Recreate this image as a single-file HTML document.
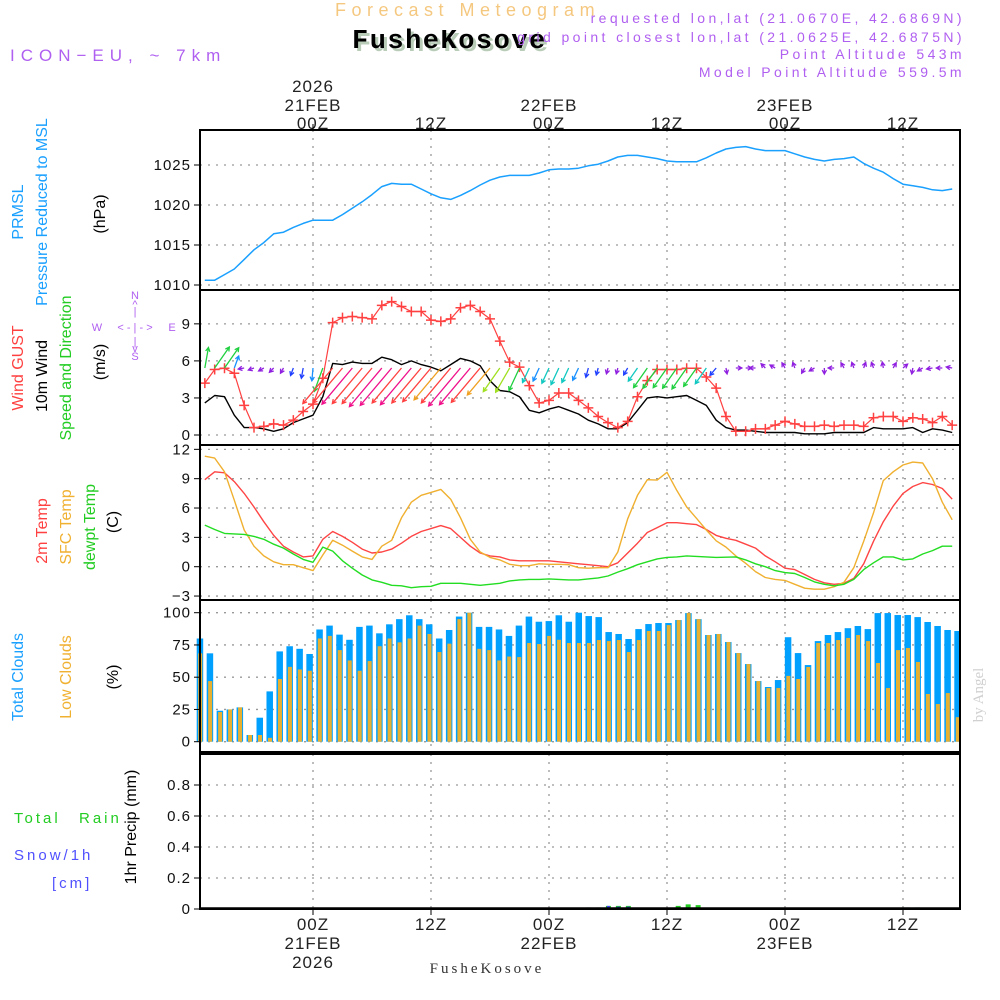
<!DOCTYPE html>
<html><head><meta charset="utf-8"><style>
body{margin:0;background:#fff;}
svg{display:block;font-family:"Liberation Sans",sans-serif;}
.tk{font-size:15px;fill:#111;text-anchor:end;letter-spacing:1px}
.tl{font-size:17px;fill:#222;text-anchor:middle;letter-spacing:1px}
.lt{font-size:16px;text-anchor:middle}
</style></head><body>
<svg id="chart" width="1000" height="1000" viewBox="0 0 1000 1000" xmlns="http://www.w3.org/2000/svg">
<rect width="1000" height="1000" fill="#fff"/>
<text x="335" y="16" font-size="18" fill="#f5c880" letter-spacing="5.5">Forecast Meteogram</text>
<text x="355" y="51" font-size="27" font-weight="bold" fill="#b8ccb8" font-family="Liberation Mono,monospace" letter-spacing="1.5">FusheKosove</text>
<text x="352" y="48" font-size="27" font-weight="bold" fill="#000" font-family="Liberation Mono,monospace" letter-spacing="1.5">FusheKosove</text>
<text x="10" y="61" font-size="17" fill="#b060f0" letter-spacing="6">ICON−EU, ~ 7km</text>
<g font-size="14" fill="#b060f0" text-anchor="end" letter-spacing="3.4">
<text x="965" y="23">requested lon,lat (21.0670E, 42.6869N)</text>
<text x="965" y="42">grid point closest lon,lat (21.0625E, 42.6875N)</text>
<text x="965" y="59">Point Altitude 543m</text>
<text x="965" y="77">Model Point Altitude 559.5m</text>
</g>
<g class="lt">
<text transform="translate(23,212) rotate(-90)" fill="#1aa0ff">PRMSL</text>
<text transform="translate(47,212) rotate(-90)" fill="#1aa0ff">Pressure Reduced to MSL</text>
<text transform="translate(105,214) rotate(-90)" fill="#000">(hPa)</text>
<text transform="translate(23,368) rotate(-90)" fill="#ff4040">Wind GUST</text>
<text transform="translate(47,376) rotate(-90)" fill="#000">10m Wind</text>
<text transform="translate(71,368) rotate(-90)" fill="#22cc22">Speed and Direction</text>
<text transform="translate(105,362) rotate(-90)" fill="#000">(m/s)</text>
<text transform="translate(47,531) rotate(-90)" fill="#ff4040">2m Temp</text>
<text transform="translate(71,527) rotate(-90)" fill="#f0b030">SFC Temp</text>
<text transform="translate(95,527) rotate(-90)" fill="#22cc22">dewpt Temp</text>
<text transform="translate(118,522) rotate(-90)" fill="#000">(C)</text>
<text transform="translate(23,677) rotate(-90)" fill="#1aa0ff">Total Clouds</text>
<text transform="translate(71,677) rotate(-90)" fill="#f0b030">Low Clouds</text>
<text transform="translate(118,677) rotate(-90)" fill="#000">(%)</text>
<text transform="translate(136,827) rotate(-90)" fill="#000">1hr Precip (mm)</text>
</g>
<g font-size="15" letter-spacing="3">
<text x="14" y="823" fill="#22cc22">Total</text>
<text x="79" y="823" fill="#22cc22">Rain</text>
<text x="14" y="860" fill="#5050ff">Snow/1h</text>
<text x="52" y="888" fill="#5050ff">[cm]</text>
</g>
<g font-size="11" fill="#b060f0" text-anchor="middle">
<text x="135" y="299">N</text><text x="135" y="308">^</text><text x="135" y="315">|</text>
<text x="97" y="331">W</text><text x="135" y="331">&lt; - | - &gt;</text><text x="172" y="331">E</text>
<text x="135" y="345">|</text><text x="135" y="352">v</text><text x="135" y="360">S</text>
</g>
<text transform="translate(983,695) rotate(-90)" font-size="15" fill="#d0d0d0" text-anchor="middle" font-family="Liberation Serif,serif">by Angel</text>
<text x="487" y="973" font-size="15" fill="#333" text-anchor="middle" font-family="Liberation Serif,serif" letter-spacing="3">FusheKosove</text>
<g id="grid"></g>
<g id="marks"></g>
<g id="frames"></g>
</svg>
<script>
const pressure=[1010.6,1010.6,1011.3,1012.0,1013.2,1014.4,1015.3,1016.4,1016.6,1017.2,1017.7,1018.1,1018.1,1018.1,1018.8,1019.6,1020.4,1021.3,1022.3,1022.7,1022.6,1022.6,1022.0,1021.4,1020.9,1020.7,1021.2,1021.8,1022.5,1023.1,1023.5,1023.7,1023.7,1023.7,1024.0,1024.4,1024.5,1024.5,1024.6,1024.9,1025.1,1025.5,1026.0,1026.2,1026.2,1026.0,1025.8,1025.5,1025.4,1025.4,1025.4,1025.9,1026.5,1027.0,1027.2,1027.3,1027.0,1026.8,1026.8,1026.8,1026.4,1026.0,1025.7,1025.5,1025.7,1025.8,1026.0,1025.2,1024.6,1024.1,1023.3,1022.6,1022.4,1022.2,1021.9,1021.8,1022.0];
const gust=[4.2,5.3,5.4,5.0,2.4,0.6,0.7,0.9,0.8,1.2,1.9,2.5,4.6,9.1,9.5,9.6,9.5,9.4,10.5,10.8,10.4,10.0,10.0,9.3,9.2,9.4,10.3,10.5,10.0,9.4,7.6,5.9,5.5,4.0,2.6,2.8,3.4,3.4,2.8,2.2,1.5,1.0,0.6,1.1,3.1,4.4,5.3,5.3,5.3,5.4,5.4,4.7,3.8,1.5,0.3,0.3,0.5,0.5,0.8,1.1,0.9,0.7,0.7,0.8,0.7,0.8,0.8,0.7,1.4,1.5,1.5,1.1,1.4,1.3,1.0,1.5,0.8];
const wind=[2.6,3.2,3.1,1.6,0.6,0.6,0.5,0.3,0.5,1.0,1.3,1.6,3.1,5.8,5.7,5.9,5.8,5.8,6.3,6.1,5.7,6.0,5.7,5.5,5.2,5.7,6.2,6.0,5.6,4.4,3.6,3.5,3.1,2.0,1.8,2.1,2.3,2.0,1.7,1.2,0.9,0.5,0.5,1.0,2.0,3.0,3.1,3.0,3.1,3.2,2.8,2.4,1.2,0.6,0.4,0.4,0.3,0.2,0.2,0.2,0.2,0.1,0.1,0.1,0.2,0.2,0.2,0.2,0.6,0.5,0.5,0.5,0.6,0.2,0.5,0.4,0.2];
const windDir=[190,215,215,200,80,70,60,45,30,20,10,5,20,40,40,40,40,40,40,40,40,40,40,40,40,40,40,40,40,40,35,30,25,25,25,25,25,25,25,15,15,15,15,30,35,35,35,35,35,35,35,35,40,350,270,270,90,135,120,150,160,30,60,0,90,150,160,200,160,170,210,230,10,60,80,90,100];
const temp2m=[8.9,9.7,9.6,8.7,7.5,6.1,4.6,3.2,2.1,1.5,1.0,1.1,2.8,3.6,3.1,2.5,1.8,1.4,1.5,1.8,2.4,3.1,3.6,3.9,4.2,3.9,3.0,2.1,1.4,1.1,1.0,0.7,0.6,0.6,0.6,0.6,0.5,0.4,0.3,0.2,0.1,0.0,0.4,1.4,2.4,3.5,4.0,4.5,4.5,4.4,4.3,3.8,3.2,2.9,2.7,2.3,1.9,1.1,0.5,-0.15,-0.3,-0.8,-1.3,-1.65,-1.8,-1.7,-1.2,0.3,2.6,4.6,6.2,7.5,8.2,8.6,8.4,8.0,6.9];
const tempSfc=[11.3,11.1,9.7,6.8,3.75,2.1,1.1,0.5,0.2,0.2,-0.1,-0.4,1.2,2.7,2.2,1.6,1.0,0.75,2.1,2.7,5.0,6.6,7.3,7.6,7.9,6.9,5.0,2.8,1.5,0.95,0.7,0.25,0.1,0.1,0.3,0.25,0.25,0.2,-0.1,-0.15,-0.1,-0.1,1.5,4.9,7.3,8.9,8.85,9.65,7.8,6.1,4.95,3.75,2.65,2.0,1.1,0.35,-0.5,-1.1,-1.3,-1.4,-1.8,-2.2,-2.3,-2.3,-2.05,-1.6,-0.1,2.6,5.5,8.8,9.7,10.4,10.7,10.6,9.0,6.6,4.8];
const dewpt=[4.25,3.8,3.4,3.35,3.3,3.1,2.8,2.3,1.9,1.3,0.75,0.45,2.0,1.6,0.6,-0.15,-0.85,-1.35,-1.6,-1.9,-1.95,-2.15,-2.05,-2.0,-1.7,-1.7,-1.7,-1.8,-1.9,-1.8,-1.7,-1.45,-1.35,-1.3,-1.3,-1.25,-1.3,-1.35,-1.35,-1.25,-1.15,-0.95,-0.55,-0.2,0.2,0.5,0.8,0.95,1.0,1.1,1.05,1.0,0.95,0.97,1.0,0.7,0.3,0.0,-0.4,-0.6,-0.7,-1.1,-1.55,-1.8,-1.95,-1.8,-1.3,-0.3,0.4,1.0,1.0,0.7,0.8,1.3,1.65,2.1,2.1];
const totalClouds=[80,68.5,24,25,26.6,5.2,18.6,39,70,74,72,68,87,90,83,79,89,90,84,91,95,98,95,91,80,86.6,97,100,89,89,87,82,90,97,93,93.5,98,93,100,97.4,96.6,85,83.5,79.6,87.3,91.2,92,92,94.3,99.7,95,82.7,83.5,77.3,68.7,60.2,47,42.4,47.8,81,68.7,59.4,78,82.7,85,88,89.7,87.3,99.7,99.7,98.2,98.2,96.6,92.8,89.7,86.6,85.8];
const lowClouds=[68.5,47,23,25,26.6,5.2,5.2,3,48.6,58,56,55,80,82,71,63,55,62.5,74,80,77,80,90,83.5,69.5,76,95,100,72,71,63,66,65.6,76.5,75.7,82,79,76.5,76.5,76.5,78.8,78,78.8,69.5,78.8,85.8,85.8,90.4,94.3,99.7,95,82.7,83.5,77.3,68.7,60.2,47,41.6,41.6,51,48.6,57.9,76.5,76.5,78.8,80.4,82.7,78,61,41.6,71,72.6,61.8,37,29.2,37.7,19];
const rain=[0,0,0,0,0,0,0,0,0,0,0,0,0,0,0,0,0,0,0,0,0,0,0,0,0,0,0,0,0,0,0,0,0,0,0,0,0,0,0.003,0.01,0.01,0.02,0.02,0.02,0.008,0.008,0.008,0,0.02,0.03,0.025,0.005,0,0,0,0,0,0,0,0,0,0,0,0,0,0,0,0,0,0,0,0.01,0.01,0,0,0,0];
const snow=[0,0,0,0,0,0,0,0,0,0,0,0,0,0,0,0,0,0,0,0,0,0,0,0,0,0,0,0,0,0,0,0,0,0,0,0,0,0,0.003,0.008,0.006,0.02,0.015,0.015,0.003,0,0,0,0,0,0,0,0,0,0,0,0,0,0,0,0,0,0,0,0,0,0,0,0,0,0,0,0,0,0,0,0];
const pressureTicks=[1010,1015,1020,1025];
const windTicks=[0,3,6,9];
const tempTicks=[-3,0,3,6,9,12];
const cloudTicks=[0,25,50,75,100];
const precipTicks=[0,0.2,0.4,0.6,0.8];
const timeTicks=[0,12,24,36,48,60];
const timeHour=["00Z","12Z","00Z","12Z","00Z","12Z"];
const timeDay=["21FEB","","22FEB","","23FEB",""];
const timeYear=["2026","","","","",""];
const startHour=-11;

const NS="http://www.w3.org/2000/svg";
const X0=200,X1=960;
const xT=t=>313+t*(118/12);
const xB=i=>199.7+i*(957.3-199.7)/76;
const yP=v=>285-(v-1010)*8;
const yW=v=>435-v*12.35;
const yT=v=>566.7-v*9.78;
const yC=v=>741.7-v*1.29;
const yR=v=>909-v*155;
const panels=[[130,290],[290,445],[445,600],[600,752],[754,909]];
const grid=document.getElementById('grid'),marks=document.getElementById('marks'),frames=document.getElementById('frames');
function mk(tag,attrs,parent){const e=document.createElementNS(NS,tag);for(const k in attrs)e.setAttribute(k,attrs[k]);parent.appendChild(e);return e;}

timeTicks.forEach((t,i)=>{
  const x=xT(t);
  panels.forEach(p=>{
    const l=mk('line',{x1:x,x2:x,y1:p[0],y2:p[1],stroke:'#999','stroke-dasharray':'2,6','stroke-width':1.3},grid);
    
    
  });
  const tt=mk('line',{x1:x,x2:x,y1:124,y2:130,stroke:'#000','stroke-width':1},frames);
  
  
  const bt=mk('line',{x1:x,x2:x,y1:909,y2:915,stroke:'#000','stroke-width':1},frames);
  
  
  [[timeYear[i],92],[timeDay[i],111],[timeHour[i],129]].forEach(a=>{ if(!a[0])return;
    const tx=mk('text',{x:x,y:a[1],class:'tl'},grid);tx.textContent=a[0];
    
    
  });
  [[timeHour[i],930],[timeDay[i],949],[timeYear[i],968]].forEach(a=>{ if(!a[0])return;
    const tx=mk('text',{x:x,y:a[1],class:'tl'},grid);tx.textContent=a[0];
    
    
  });
});
function yAxis(ticks,sc,fmt,name){
  ticks.forEach(v=>{
    const y=sc(v);
    const g=mk('line',{x1:X0,x2:X1,y1:y,y2:y,stroke:'#999','stroke-dasharray':'2,6','stroke-width':1.3},grid);
    
    
    const tk=mk('line',{x1:X0-6,x2:X0,y1:y,y2:y,stroke:'#000','stroke-width':1},frames);
    
    
    const t=mk('text',{x:X0-9,y:y+5,class:'tk'},frames);t.textContent=fmt(v);
    
    
  });
}
yAxis(pressureTicks,yP,v=>String(v),'pressure-axis');
yAxis(windTicks,yW,v=>String(v),'wind-axis');
yAxis(tempTicks,yT,v=>v<0?'−'+(-v):String(v),'temp-axis');
yAxis(cloudTicks,yC,v=>String(v),'cloud-axis');
yAxis(precipTicks,yR,v=>v===0?'0':v.toFixed(1),'precip-axis');

function line(arr,sc,color,w,name){
  const d=arr.map((v,i)=>(i?'L':'M')+xT(startHour+i).toFixed(1)+','+sc(v).toFixed(1)).join('');
  const p=mk('path',{d:d,fill:'none',stroke:color,'stroke-width':w,'stroke-linejoin':'round'},marks);
  
  
}
totalClouds.forEach((v,i)=>{
  const x=xB(i);
  const b=mk('rect',{x:x-3,y:yC(v),width:6.5,height:yC(0)-yC(v),fill:'#00a0ff'},marks);
  
  
  const o=mk('rect',{x:x-1.5,y:yC(lowClouds[i]),width:4,height:yC(0)-yC(lowClouds[i]),fill:'#e8b030'},marks);
  
  
});
rain.forEach((v,i)=>{
  if(v>0){const r=mk('rect',{x:xB(i)-2.5,y:yR(v),width:5,height:yR(0)-yR(v),fill:'#22cc22'},marks);
    
    }
  if(snow[i]>0){const s=mk('rect',{x:xB(i)-1.5,y:yR(snow[i]),width:3,height:yR(0)-yR(snow[i]),fill:'#4040ff'},marks);
    
    }
});
mk('line',{x1:X0,x2:X1,y1:908,y2:908,stroke:'#000','stroke-width':1.5},marks);
line(pressure,yP,'#1aa0ff',1.5,'pressure-line');
line(temp2m,yT,'#ff4444',1.4,'temp-2m-line');
line(tempSfc,yT,'#f0b030',1.4,'temp-sfc-line');
line(dewpt,yT,'#22dd22',1.4,'dewpoint-line');
line(wind,yW,'#000',1.4,'wind-speed-line');
line(gust,yW,'#ff4040',1.2,'gust-line');
gust.forEach((v,i)=>{
  const x=xT(startHour+i),y=yW(v);
  const m=mk('path',{d:`M${x-5},${y}H${x+5}M${x},${y-5}V${y+5}`,stroke:'#ff4040','stroke-width':1.5},marks);
  
  
});
function wcol(v){
  if(v<0.8)return '#9020e0'; if(v<1.4)return '#2040ff'; if(v<2.0)return '#1890ff';
  if(v<2.6)return '#10c8c0'; if(v<3.3)return '#20d040'; if(v<4.2)return '#a0e020';
  if(v<5.3)return '#f0a020'; if(v<5.9)return '#ff4040'; return '#f0108a';
}
wind.forEach((v,i)=>{
  const x=xT(startHour+i),y=368;
  const L=Math.max(6,v*8);
  const a=(windDir[i]+180)*Math.PI/180;
  const dx=Math.sin(a)*L,dy=-Math.cos(a)*L;
  const hx=x+dx,hy=y+dy;
  const h=4.5,ang=Math.atan2(dy,dx);
  const p1=[hx-h*Math.cos(ang-0.5),hy-h*Math.sin(ang-0.5)];
  const p2=[hx-h*Math.cos(ang+0.5),hy-h*Math.sin(ang+0.5)];
  const c=wcol(v);
  const ar=mk('path',{d:`M${x},${y}L${hx},${hy}M${p1[0]},${p1[1]}L${hx},${hy}L${p2[0]},${p2[1]}`,stroke:c,'stroke-width':1.3,fill:'none'},marks);
  
  
});
panels.forEach((p,i)=>{
  const r=mk('rect',{x:X0,y:p[0],width:X1-X0,height:p[1]-p[0],fill:'none',stroke:'#000','stroke-width':2},frames);
  
  
});
</script>
</body></html>
